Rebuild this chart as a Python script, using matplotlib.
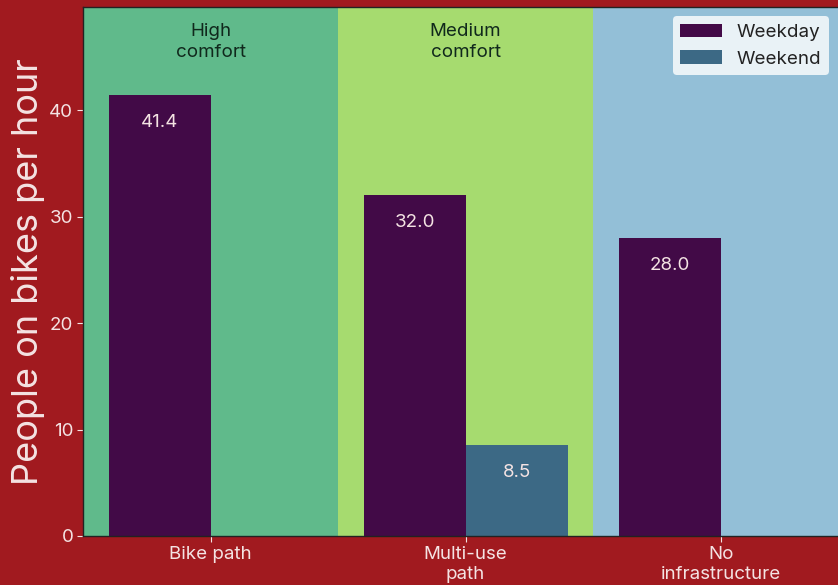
import matplotlib
matplotlib.use("Agg")
import matplotlib.pyplot as plt
import numpy as np

categories = ["Bike path", "Multi-use\npath", "No\ninfrastructure"]
weekday = [41.4, 32.0, 28.0]
weekend = [0.0, 8.5, 0.0]
comfort_labels = ["High\ncomfort", "Medium\ncomfort", ""]
y_ticks = [0, 10, 20, 30, 40]

BG = "#a11a1f"
LIGHT = "#f4e3e3"
span_colors = ["#60ba8b", "#a6db6f", "#93bfd7"]
c_weekday = "#420a47"
c_weekend = "#3c6985"

plt.rcParams['font.family'] = ['Inter', 'DejaVu Sans']

fig = plt.figure(figsize=(8.38, 5.85), dpi=100, facecolor=BG)
ax = fig.add_axes([83/838, 49/585, (838-83)/838, 529/585])

x = np.arange(len(categories))
for i, c in enumerate(span_colors):
    ax.axvspan(i - 0.5, i + 0.5, color=c, zorder=0, lw=0)

w = 0.4
b1 = ax.bar(x - w/2, weekday, w, color=c_weekday, label="Weekday", zorder=2)
b2 = ax.bar(x + w/2, weekend, w, color=c_weekend, label="Weekend", zorder=2)

for rect, v in list(zip(b1, weekday)) + list(zip(b2, weekend)):
    if v > 0:
        ax.annotate(f"{v:.1f}", (rect.get_x() + rect.get_width()/2, v),
                    xytext=(0, -13.5), textcoords="offset points",
                    ha="center", va="top", color=LIGHT, fontsize=13.5, zorder=3)

ymax = max(weekday) * 1.2
for i, t in enumerate(comfort_labels):
    if t:
        ax.text(i, ymax - 1.5, t, ha="center", va="top", fontsize=13.5,
                color="#10281c", linespacing=1.3, zorder=3)

ax.set_xlim(-0.5, 2.46)
ax.set_ylim(0, ymax)
ax.set_xticks(x)
ax.set_xticklabels(categories, color=LIGHT, fontsize=13.5, linespacing=1.25)
ax.set_yticks(y_ticks)
ax.set_yticklabels([str(t) for t in y_ticks], color=LIGHT, fontsize=13.5)
ax.tick_params(axis="both", colors=LIGHT, length=4, width=0.8, pad=3)
ax.set_ylabel("People on bikes per hour", color=LIGHT, fontsize=26, labelpad=3)

for s in ax.spines.values():
    s.set_color("#222222")
    s.set_linewidth(1.0)
ax.spines["right"].set_visible(False)

leg = ax.legend(loc="upper right", fontsize=13.5, frameon=True, fancybox=True,
                framealpha=0.8, edgecolor="none", handlelength=2.2,
                borderaxespad=0.5, labelcolor="#222222")

fig.savefig("out.png", dpi=100, facecolor=BG)
